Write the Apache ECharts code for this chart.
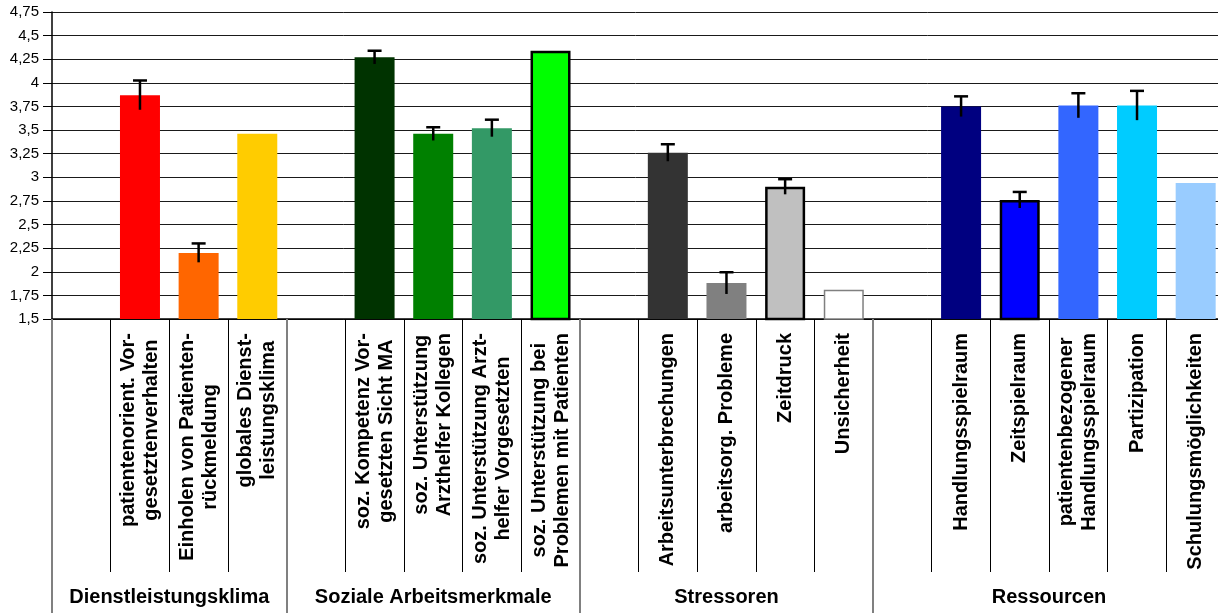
<!DOCTYPE html>
<html>
<head>
<meta charset="utf-8">
<script src="https://cdn.jsdelivr.net/npm/echarts@6/dist/echarts.min.js"></script>
<style>
  html, body { margin: 0; padding: 0; background: #fff; overflow: hidden; }
  #chart { width: 1218px; height: 613px; }
</style>
</head>
<body>
<div id="chart"></div>
<script>
// Kategorien (leere Einträge = Lücke zwischen den Gruppen)
var categories = [
  "",
  "patientenorient. Vor-\ngesetztenverhalten",
  "Einholen von Patienten-\nrückmeldung",
  "globales Dienst-\nleistungsklima",
  "",
  "soz. Kompetenz Vor-\ngesetzten Sicht MA",
  "soz. Unterstützung\nArzthelfer Kollegen",
  "soz. Unterstützung Arzt-\nhelfer Vorgesetzten",
  "soz. Unterstützung bei\nProblemen mit Patienten",
  "",
  "Arbeitsunterbrechungen",
  "arbeitsorg. Probleme",
  "Zeitdruck",
  "Unsicherheit",
  "",
  "Handlungsspielraum",
  "Zeitspielraum",
  "patientenbezogener\nHandlungsspielraum",
  "Partizipation",
  "Schulungsmöglichkeiten"
];
var means = [null, 3.87, 2.2, 3.46, null, 4.27, 3.46, 3.52, 4.34, null, 3.26, 1.88, 2.9, 1.81, null, 3.75, 2.76, 3.76, 3.76, 2.94];
var errors = [null, 0.155, 0.1, null, null, 0.07, 0.07, 0.09, null, null, 0.09, 0.115, 0.08, null, null, 0.107, 0.085, 0.13, 0.155, null];
var barColors = ["", "#FF0000", "#FF6600", "#FFCC00", "", "#003300", "#008000", "#339966", "#00FF00", "",
  "#333333", "#808080", "#C0C0C0", "#FFFFFF", "", "#000080", "#0000FF", "#3366FF", "#00CCFF", "#99CCFF"];
var barBorders = ["", "", "", "", "", "", "", "", "#000000", "", "", "", "#000000", "#808080", "", "", "#000000", "", "", ""];

// Gruppen: Grenzen und Mitte in Kategorie-Einheiten
var groupNames = ["Dienstleistungsklima", "Soziale Arbeitsmerkmale", "Stressoren", "Ressourcen"];
var groupBounds = [0, 4, 9, 14, 20];
var groupCenters = [2, 6.5, 11.5, 17];

var yTicks = { min: 1.5, max: 4.75, step: 0.25 };

var FONT = "'Liberation Sans', Arial, Helvetica, sans-serif";

var myChart = echarts.init(document.getElementById("chart"));

var barData = means.map(function (v, i) {
  if (v === null) return null;
  var item = { value: v, itemStyle: { color: barColors[i] } };
  if (barBorders[i]) {
    item.itemStyle.borderColor = barBorders[i];
    item.itemStyle.borderWidth = barBorders[i] === "#808080" ? 1.5 : 2.5;
  }
  return item;
});

var errData = [];
errors.forEach(function (e, i) {
  if (e !== null) errData.push([i, means[i], e]);
});

var option = {
  backgroundColor: "#fff",
  animation: false,
  grid: {
    left: 52,
    right: -7,
    top: 12,
    bottom: 294,
    containLabel: false,
    outerBoundsMode: "none"
  },
  xAxis: [
    {
      type: "category",
      data: categories,
      position: "bottom",
      boundaryGap: true,
      axisLine: { show: true, lineStyle: { color: "#000", width: 1.5 } },
      axisTick: {
        show: true,
        interval: 0,
        length: 253,
        lineStyle: { color: "#000", width: 1 }
      },
      axisLabel: {
        interval: 0,
        rotate: 90,
        margin: 14,
        color: "#000",
        fontFamily: FONT,
        fontSize: 20,
        fontWeight: "bold",
        formatter: function (v) {
          if (!v) return "";
          return v.split("\n").map(function (s) { return "{c|" + s + "}"; }).join("\n");
        },
        rich: {
          c: {
            align: "center",
            color: "#000",
            fontFamily: FONT,
            fontSize: 20,
            fontWeight: "bold",
            lineHeight: 23
          }
        }
      },
      splitLine: { show: false }
    },
    {
      // Gruppenachse
      type: "value",
      position: "bottom",
      min: 0,
      max: 20,
      axisLine: { show: false },
      axisTick: {
        show: true,
        customValues: groupBounds,
        length: 294,
        lineStyle: { color: "#808080", width: 2 }
      },
      axisLabel: {
        customValues: groupCenters,
        margin: 268,
        color: "#000",
        fontFamily: FONT,
        fontSize: 20,
        fontWeight: "bold",
        formatter: function (v) {
          var k = groupCenters.indexOf(v);
          return k >= 0 ? groupNames[k] : "";
        }
      },
      splitLine: { show: false }
    }
  ],
  yAxis: {
    type: "value",
    min: yTicks.min,
    max: yTicks.max,
    interval: yTicks.step,
    axisLine: { show: true, lineStyle: { color: "#000", width: 1.5 } },
    axisTick: { show: true, length: 9, lineStyle: { color: "#000" } },
    axisLabel: {
      margin: 13,
      color: "#000",
      fontFamily: FONT,
      fontSize: 15,
      formatter: function (v) {
        return String(Math.round(v * 100) / 100).replace(".", ",");
      }
    },
    splitLine: { show: true, lineStyle: { color: "#1a1a1a", width: 1 } }
  },
  series: [
    {
      type: "bar",
      xAxisIndex: 0,
      data: barData,
      barWidth: 40
    },
    {
      // Fehlerbalken
      type: "custom",
      xAxisIndex: 0,
      data: errData,
      encode: { x: 0, y: 1 },
      z: 10,
      renderItem: function (params, api) {
        var x = api.value(0);
        var m = api.value(1);
        var e = api.value(2);
        var top = api.coord([x, m + e]);
        var bot = api.coord([x, m - e]);
        var half = 7;
        var st = { stroke: "#000", lineWidth: 2.5 };
        return {
          type: "group",
          children: [
            { type: "line", shape: { x1: top[0], y1: top[1], x2: bot[0], y2: bot[1] }, style: st },
            { type: "line", shape: { x1: top[0] - half, y1: top[1], x2: top[0] + half, y2: top[1] }, style: st }
          ]
        };
      }
    }
  ]
};

myChart.setOption(option);
</script>
</body>
</html>
